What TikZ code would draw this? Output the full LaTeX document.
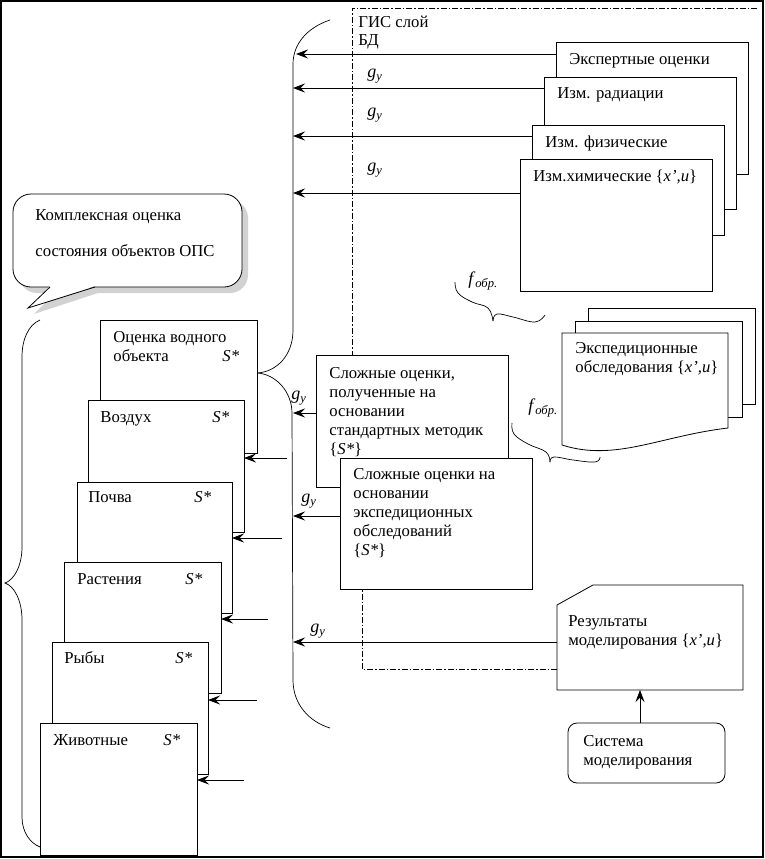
\documentclass[tikz,border=0pt]{standalone}
\usepackage{fontspec}
\setmainfont{Liberation Serif}
\usetikzlibrary{arrows.meta}
\newcommand{\gy}{\textit{g}\textsubscript{\textit{y}}}
\newcommand{\fobr}{\textit{f}\textsubscript{\textit{обр.}}}
\begin{document}
\begin{tikzpicture}[x=1pt,y=-1pt,line width=0.8pt,
  box/.style={draw, fill=white, inner sep=0pt, outer sep=0pt, anchor=north west},
  ghost/.style={inner sep=0pt, outer sep=0pt, anchor=north west},
  txt/.style={inner sep=0pt, anchor=base west, align=left, font=\fontsize{16.7}{19}\selectfont},
  lbl/.style={inner sep=0pt, font=\fontsize{18}{20}\selectfont},
  arr/.style={-{Stealth[length=12pt,width=9pt,inset=4.5pt]}},
  dd/.style={dash pattern=on 6pt off 2pt on 1.5pt off 2pt},
  brace/.style={line width=0.7pt}
]
\useasboundingbox (0,0) rectangle (764,859);
\fill[white] (0,0) rectangle (764,859);
\draw[line width=1.2pt] (1,1) rectangle (763,857);

% GIS dash-dot frame
\draw[dd] (757,8) -- (352,8) -- (352,470) -- (362,470) -- (362,669) -- (557,669);
\node[txt] (gis) at (358,28) {ГИС слой};
\node[txt] (bd) at (358,46) {БД};

% big right brace
\draw[brace] (330,20) .. controls (306,28) and (293,45) .. (293,64) -- (293,330)
  .. controls (293,356) and (276,372) .. (257,373)
  .. controls (276,374) and (292,392) .. (292,413) -- (293,680)
  .. controls (293,705) and (310,722) .. (330,728);
\coordinate (b1) at (296,54);
\coordinate (b2) at (293,88);
\coordinate (b3) at (293,136);
\coordinate (b4) at (293,193);
\coordinate (b5) at (293,413);
\coordinate (b6) at (293,516);
\coordinate (b7) at (293,642);

% left brace
\draw[brace] (40,320) .. controls (28,325) and (22,340) .. (22,357) -- (22,547)
  .. controls (22,566) and (14,580) .. (5,583)
  .. controls (14,586) and (22,600) .. (22,620) -- (22,817)
  .. controls (22,832) and (30,843) .. (40,847);

% top right stack
\node[box,minimum width=192pt,minimum height=132pt] (eks) at (556,42) {};
\node[box,minimum width=192pt,minimum height=132pt] (rad) at (544,77) {};
\node[box,minimum width=192pt,minimum height=110pt] (fiz) at (532,125) {};
\node[box,minimum width=192pt,minimum height=132pt] (him) at (520,159) {};
\node[txt] (teks) at (569,64) {Экспертные оценки};
\node[txt] (trad) at (557,99) {Изм. радиации};
\node[txt] (tfiz) at (545,147) {Изм. физические};
\node[txt] (thim) at (533,181) {Изм.химические \{\textit{x’,u}\}};

\draw[arr] (b1 -| eks.west) -- (b1);
\draw[arr] (b2 -| rad.west) -- (b2);
\draw[arr] (b3 -| fiz.west) -- (b3);
\draw[arr] (b4 -| him.west) -- (b4);
\node[lbl] (g1) at (375,76) {\gy};
\node[lbl] (g2) at (375,115) {\gy};
\node[lbl] (g3) at (375,170) {\gy};

% callout
\fill[gray!35, rounded corners=18pt] (19,200) rectangle (248,293);
\fill[gray!35] (56,292) -- (34,314) -- (101,292) -- cycle;
\node[box, rounded corners=18pt, minimum width=229pt, minimum height=93pt] (call) at (13,194) {};
\fill[white] (50,286) -- (28,308) -- (95,286) -- cycle;
\draw (50,287) -- (28,308) -- (95,287);
\node[txt] (tcall1) at (35,220) {Комплексная оценка};
\node[txt] (tcall2) at (35,256) {состояния объектов ОПС};

% left stack
\node[box,minimum width=157pt,minimum height=133pt] (ocw) at (100,320) {};
\node[txt] at (113,361) {Оценка водного\\объекта};
\node[txt] at (222,361) {\textit{S*}};
\node[box,minimum width=156pt,minimum height=132pt] (vozd) at (88,400) {};
\node[txt] at (100,422) {Воздух};
\node[txt] at (212,422) {\textit{S*}};
\node[box,minimum width=155pt,minimum height=131pt] (poch) at (77,482) {};
\node[txt] at (88,502) {Почва};
\node[txt] at (194,502) {\textit{S*}};
\node[box,minimum width=157pt,minimum height=131pt] (rast) at (64,562) {};
\node[txt] at (77,584) {Растения};
\node[txt] at (185,584) {\textit{S*}};
\node[box,minimum width=156pt,minimum height=132pt] (ryby) at (52,642) {};
\node[txt] at (64,663) {Рыбы};
\node[txt] at (175,663) {\textit{S*}};
\node[box,minimum width=157pt,minimum height=132pt] (ziv) at (40,723) {};
\node[txt] at (53,745) {Животные};
\node[txt] at (163,745) {\textit{S*}};

\coordinate (s1) at (287,458);
\coordinate (s2) at (282,538);
\coordinate (s3) at (268,619);
\coordinate (s4) at (257,700);
\coordinate (s5) at (244,780);
\draw[arr] (s1) -- (s1 -| vozd.east);
\draw[arr] (s2) -- (s2 -| poch.east);
\draw[arr] (s3) -- (s3 -| rast.east);
\draw[arr] (s4) -- (s4 -| ryby.east);
\draw[arr] (s5) -- (s5 -| ziv.east);

% middle boxes
\node[box,minimum width=192pt,minimum height=132pt] (slo1) at (316,355) {};
\node[txt] at (329,454) {Сложные оценки,\\полученные на\\основании\\стандартных методик\\\{\textit{S*}\}};
\node[box,minimum width=192pt,minimum height=131pt] (slo2) at (340,458) {};
\node[txt] at (353,555) {Сложные оценки на\\основании\\экспедиционных\\обследований\\\{\textit{S*}\}};
\draw[arr] (b5 -| slo1.west) -- (b5);
\draw[arr] (b6 -| slo2.west) -- (b6);
\node[lbl] (g4) at (299,398) {\gy};
\node[lbl] (g5) at (309,501) {\gy};

% expedition stack
\node[box,minimum width=167pt,minimum height=96pt] (e3) at (588,308) {};
\node[box,minimum width=167pt,minimum height=96pt] (e2) at (575,321) {};
\node[ghost,minimum width=166pt,minimum height=112pt] (e1) at (562,333) {};
\draw[fill=white] (e1.south west) -- (e1.north west) -- (e1.north east) -- ([yshift=17pt]e1.south east)
  .. controls (660,436) and (615,462) .. (e1.south west);
\node[txt] at (575,372) {Экспедиционные\\обследования \{\textit{x’,u}\}};

% f_obr braces
\draw[brace] plot[smooth,tension=0.7] coordinates {(455,282) (458,293) (472,302) (488,308) (493,321)};
\draw[brace] plot[smooth,tension=0.7] coordinates {(493,321) (497,314) (513,317) (535,322) (545,315)};
\node[lbl] (f1) at (483,281) {\fobr};
\draw[brace] plot[smooth,tension=0.7] coordinates {(512,423) (514,434) (528,444) (546,452) (550,462)};
\draw[brace] plot[smooth,tension=0.7] coordinates {(550,462) (554,457) (573,460) (595,462) (600,457)};
\node[lbl] (f2) at (543,408) {\fobr};

% results of modelling
\node[ghost,minimum width=186pt,minimum height=105pt] (res) at (557,585) {};
\draw[fill=white] ([xshift=36pt]res.north west) -- (res.north east) -- (res.south east) -- (res.south west) -- ([yshift=-20pt]res.north west) -- cycle;
\node[txt] at (568,645) {Результаты\\моделирования \{\textit{x’,u}\}};
\draw[arr] (b7 -| res.west) -- (b7);
\node[lbl] (g6) at (318,631) {\gy};

% modelling system
\node[box, rounded corners=9pt, minimum width=157pt,minimum height=60pt] (sys) at (568,723) {};
\node[txt] at (583,765) {Система\\моделирования};
\draw[arr] (sys.north -| 640,0) -- (res.south -| 640,0);
\end{tikzpicture}
\end{document}
